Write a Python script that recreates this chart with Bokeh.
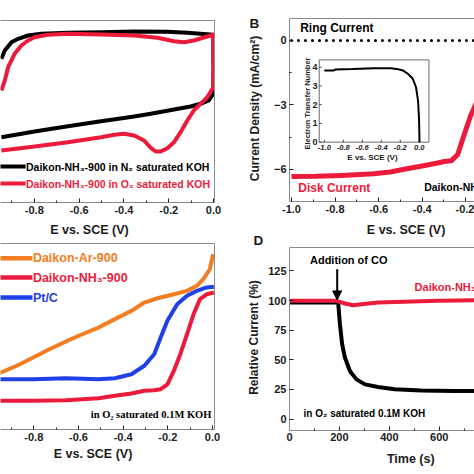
import numpy as np
from bokeh.plotting import figure
from bokeh.models import (LinearAxis, FixedTicker, NumeralTickFormatter, Range1d,
                          Arrow, NormalHead)
from bokeh.layouts import row, column
from bokeh.embed import file_html
from bokeh.resources import INLINE
from bokeh.core.properties import value

FONT = "Liberation Sans"
SERIF = "Liberation Serif"
RED = "#ec1b3b"
ORANGE = "#f27d22"
BLUE = "#2040e8"
FRAME = "#8a8a8a"
INK = "#1c1c1c"

# ---------------- Panel A : cyclic voltammograms ----------------
A_N2_E = [-0.947, -0.799, -0.650, -0.502, -0.354, -0.280, -0.176, -0.102, -0.058, -0.021, -0.001,
          0.000, -0.001, -0.058, -0.117, -0.206, -0.354, -0.502, -0.650, -0.769, -0.828, -0.872,
          -0.902, -0.932, -0.947]
A_N2_I = [-0.734, -0.620, -0.514, -0.414, -0.320, -0.266, -0.180, -0.120, -0.066, 0.000, 0.134,
          0.600, 1.314, 1.334, 1.354, 1.374, 1.380, 1.366, 1.354, 1.334, 1.300, 1.234,
          1.166, 1.000, 0.834]
A_O2_E = [-0.947, -0.799, -0.650, -0.502, -0.443, -0.399, -0.354, -0.310, -0.280, -0.258, -0.236,
          -0.206, -0.176, -0.147, -0.117, -0.088, -0.058, -0.028, -0.001, 0.000, -0.001, -0.028,
          -0.088, -0.132, -0.176, -0.250, -0.354, -0.502, -0.650, -0.739, -0.799, -0.828, -0.858,
          -0.888, -0.917, -0.932, -0.947]
A_O2_I = [-1.000, -0.920, -0.834, -0.734, -0.686, -0.666, -0.700, -0.800, -0.946, -1.020, -1.020,
          -0.954, -0.834, -0.634, -0.400, -0.200, -0.066, 0.066, 0.266, 0.800, 1.314, 1.280,
          1.200, 1.166, 1.186, 1.254, 1.300, 1.320, 1.334, 1.314, 1.266, 1.200, 1.100,
          0.934, 0.666, 0.400, 0.200]
A_LEGEND = ["Daikon-NH\u2083-900 in N\u2082 saturated KOH", "Daikon-NH\u2083-900 in O\u2082 saturated KOH"]
E_TICKS = [-1.0, -0.8, -0.6, -0.4, -0.2, 0.0]
E_MINOR = [-0.9, -0.7, -0.5, -0.3, -0.1]
E_LABEL = "E vs. SCE (V)"

# ---------------- Panel B : RRDE ----------------
B_RING_E = [-1.0, 0.0]
B_RING_I = [0.0, 0.0]
B_DISK_E = [-1.0, -0.889, -0.769, -0.622, -0.547, -0.471, -0.4, -0.324, -0.298, -0.267,
            -0.237, -0.208, -0.178, -0.16, -0.133]
B_DISK_I = [-6.33, -6.32, -6.28, -6.2, -6.12, -5.97, -5.84, -5.69, -5.63, -5.6,
            -5.3, -4.4, -3.5, -3.1, -2.4]
B_Y_TICKS = [0, -3, -6]
B_Y_MINOR = [-1.5, -4.5]
B_Y_LABEL = "Current Density (mA/cm\u00b2)"
INSET_E = [-1.0, -0.9, -0.885, -0.7, -0.476, -0.3, -0.238, -0.17, -0.12, -0.068, -0.034,
           -0.013, -0.003, 0.003]
INSET_N = [3.82, 3.82, 3.88, 3.9, 3.95, 3.94, 3.91, 3.82, 3.65, 3.38, 2.93, 2.22, 1.33, 0.0]
INSET_X_TICKS = [-1.0, -0.8, -0.6, -0.4, -0.2, 0.0]
INSET_X_LABELS = ["-1.0", "-0.8", "-0.6", "-0.4", "-0.2", "0.0"]
INSET_Y_TICKS = [0, 1, 2, 3, 4]
INSET_Y_LABELS = ["0", "1", "2", "3", "4"]
INSET_XLIM = (-1.054, 0.102)
INSET_YLIM = (0.0, 4.39)

# ---------------- Panel C : LSV ----------------
C_AR_E = [0.003, -0.012, -0.041, -0.07, -0.114, -0.173, -0.246, -0.305, -0.363, -0.437, -0.51,
          -0.583, -0.656, -0.73, -0.803, -0.876, -0.949, -1.0]
C_AR_I = [2.02, 1.18, 0.63, 0.26, -0.02, -0.21, -0.43, -0.67, -1.13, -1.59, -2.06,
          -2.43, -2.83, -3.26, -3.72, -4.18, -4.56, -4.8]
C_PT_E = [0.006, -0.026, -0.07, -0.114, -0.158, -0.202, -0.232, -0.261, -0.305, -0.363, -0.437,
          -0.51, -0.656, -0.803, -0.949, -1.0]
C_PT_I = [0.21, 0.17, -0.02, -0.29, -0.76, -1.68, -2.61, -3.54, -4.18, -4.65, -4.87,
          -4.93, -4.87, -4.93, -4.93, -4.93]
C_NH_E = [0.006, -0.026, -0.056, -0.085, -0.114, -0.144, -0.173, -0.202, -0.232, -0.261, -0.305,
          -0.363, -0.437, -0.51, -0.656, -0.803, -0.949, -1.0]
C_NH_I = [-0.11, -0.21, -0.48, -1.32, -2.43, -3.54, -4.46, -5.21, -5.48, -5.54, -5.57,
          -5.72, -5.85, -5.98, -6.09, -6.13, -6.13, -6.13]
C_LEGEND = ["Daikon-Ar-900", "Daikon-NH\u2083-900", "Pt/C"]
C_NOTE = "in O\u2082 saturated 0.1M KOH"

# ---------------- Panel D : CO tolerance ----------------
D_NH_T = [0, 100, 188, 222, 255, 288, 355, 461, 594, 741]
D_NH_R = [99.7, 99.7, 99.7, 97.5, 96.0, 96.9, 98.3, 98.9, 99.7, 100.3]
D_PT_T = [0, 100, 188, 195, 202, 211, 222, 242, 268, 302, 355, 421, 527, 660, 741]
D_PT_R = [98.3, 98.3, 98.3, 98.0, 80.0, 63.0, 51.9, 40.6, 33.5, 29.3, 27.1, 25.1, 24.2, 23.7, 23.7]
D_X_TICKS = [0, 200, 400, 600]
D_X_MINOR = [100, 300, 500, 700]
D_Y_TICKS = [0, 25, 50, 75, 100, 125]
D_Y_LABEL = "Relative Current (%)"
D_X_LABEL = "Time (s)"
D_NOTE = "in O\u2082 saturated 0.1M KOH"
CO_TIME = 191


def clean(p):
    p.outline_line_color = None
    p.background_fill_color = "white"
    p.border_fill_color = "white"
    for g in p.grid:
        g.visible = False
    return p


def make_fig(w, h, xr, yr, left, right, top, bottom):
    p = figure(width=w, height=h, x_range=Range1d(*xr), y_range=Range1d(*yr),
               output_backend="svg", toolbar_location=None,
               x_axis_location=None, y_axis_location=None,
               min_border_left=left, min_border_right=right,
               min_border_top=top, min_border_bottom=bottom)
    return clean(p)


def strip(w, h):
    p = figure(width=w, height=h, x_range=Range1d(0, w), y_range=Range1d(0, h),
               output_backend="svg", toolbar_location=None,
               x_axis_location=None, y_axis_location=None, min_border=0)
    return clean(p)


def tick_axis(ticks, minor, fmt=None, size="11px", standoff=3):
    ax = LinearAxis(ticker=FixedTicker(ticks=ticks, minor_ticks=minor))
    ax.axis_line_color = FRAME
    ax.major_tick_line_color = INK
    ax.minor_tick_line_color = INK
    ax.major_tick_in = 4
    ax.major_tick_out = 0
    ax.minor_tick_in = 2
    ax.minor_tick_out = 0
    ax.major_label_text_font = FONT
    ax.major_label_text_font_style = "bold"
    ax.major_label_text_font_size = size
    ax.major_label_text_color = INK
    ax.major_label_standoff = standoff
    if fmt is not None:
        ax.formatter = fmt
    return ax


def border_axis():
    ax = LinearAxis(ticker=FixedTicker(ticks=[], minor_ticks=[]))
    ax.axis_line_color = FRAME
    ax.major_tick_line_color = None
    ax.minor_tick_line_color = None
    ax.major_label_text_font_size = "0px"
    ax.major_label_standoff = 0
    return ax


def txt(p, x, y, t, size, color=INK, font=FONT, style="bold", align="left", **kw):
    p.text(x=[x], y=[y], text=[t], text_font=value(font), text_font_style=style,
           text_font_size=size, text_color=color, text_align=align, text_baseline="middle", **kw)


fmt1 = NumeralTickFormatter(format="0.0")

# ---------------- A ----------------
pa = make_fig(237, 220, (-0.951, 0.0045), (-2.04, 1.6), 0, 23, 20, 18)
pa.add_layout(tick_axis(E_TICKS, E_MINOR, fmt1, standoff=3), "below")
pa.add_layout(border_axis(), "above")
pa.add_layout(border_axis(), "right")
pa.line(A_N2_E, A_N2_I, line_color="black", line_width=4, line_join="round")
pa.line(A_O2_E, A_O2_I, line_color=RED, line_width=4, line_join="round")
pa.line([-0.96, -0.839], [-1.32, -1.32], line_color="black", line_width=4)
pa.line([-0.96, -0.839], [-1.66, -1.66], line_color=RED, line_width=4)
txt(pa, -0.837, -1.32, A_LEGEND[0], "10.5px", "black")
txt(pa, -0.837, -1.66, A_LEGEND[1], "10.5px", RED)

xa = strip(237, 17)
txt(xa, 98.5, 8, E_LABEL, "12.5px", align="center")

# ---------------- B ----------------
pb = make_fig(209, 220, (-1.009, -0.16), (-7.49, 1.02), 18, 0, 18, 19)
pb.add_layout(tick_axis(E_TICKS, E_MINOR, fmt1, standoff=3), "below")
pb.add_layout(tick_axis(B_Y_TICKS, B_Y_MINOR, standoff=3), "left")
pb.add_layout(border_axis(), "above")
pb.line(B_RING_E, B_RING_I, line_color="black", line_width=3, line_dash="0 7", line_cap="round")
pb.line(B_DISK_E, B_DISK_I, line_color=RED, line_width=5, line_join="round")
txt(pb, -0.96, 0.56, "Ring Current", "12px", "black")
txt(pb, -0.969, -6.84, "Disk Current", "12px", RED)
txt(pb, -0.391, -6.81, "Daikon-NH\u2083-900", "10.5px", "black")

# inset (mapped through extra ranges onto part of the frame)
pb.extra_x_ranges = {"ix": Range1d(-1.367, 0.582)}
pb.extra_y_ranges = {"iy": Range1d(-3.163, 6.597)}
IK = dict(x_range_name="ix", y_range_name="iy")
pb.quad(left=[INSET_XLIM[0]], right=[INSET_XLIM[1]], bottom=[INSET_YLIM[0]], top=[INSET_YLIM[1]],
        fill_color="white", line_color="#6a6a6a", line_width=1, **IK)
pb.segment(x0=INSET_X_TICKS, y0=[INSET_YLIM[0]] * 6, x1=INSET_X_TICKS, y1=[INSET_YLIM[0] + 0.13] * 6,
           line_color="#444", line_width=1, **IK)
pb.segment(x0=[INSET_XLIM[0]] * 5, y0=INSET_Y_TICKS, x1=[INSET_XLIM[0] + 0.026] * 5, y1=INSET_Y_TICKS,
           line_color="#444", line_width=1, **IK)
pb.text(x=INSET_X_TICKS, y=[-0.26] * 6, text=INSET_X_LABELS, text_font=value(FONT),
        text_font_style="bold italic", text_font_size="7.5px", text_color=INK,
        text_align="center", text_baseline="middle", **IK)
pb.text(x=[-1.071] * 5, y=INSET_Y_TICKS, text=INSET_Y_LABELS, text_font=value(FONT),
        text_font_style="bold", text_font_size="9px", text_color=INK,
        text_align="right", text_baseline="middle", **IK)
pb.line(INSET_E, INSET_N, line_color="black", line_width=2, **IK)
txt(pb, -0.493, -0.816, E_LABEL, "8px", align="center", **IK)
txt(pb, -1.176, 2.06, "Electron Transfer Number", "7.5px", align="center", angle=np.pi / 2, **IK)

xb = strip(209, 17)
txt(xb, 131.7, 8, E_LABEL, "12.5px", align="center")

# ---------------- middle strip: panel letters and y-axis titles ----------------
mid = strip(28, 474)
txt(mid, 12, 451, "B", "13.5px")
txt(mid, 17, 366, B_Y_LABEL, "12px", align="center", angle=np.pi / 2)
txt(mid, 16, 234.5, "D", "13.5px")
txt(mid, 16, 137, D_Y_LABEL, "12px", align="center", angle=np.pi / 2)

# ---------------- C ----------------
pc = make_fig(237, 209, (-0.949, 0.009), (-7.72, 2.61), 0, 19, 6, 17)
pc.add_layout(tick_axis(E_TICKS, E_MINOR, fmt1, standoff=3), "below")
pc.add_layout(border_axis(), "above")
pc.add_layout(border_axis(), "right")
pc.line(C_AR_E, C_AR_I, line_color=ORANGE, line_width=4)
pc.line(C_PT_E, C_PT_I, line_color=BLUE, line_width=4)
pc.line(C_NH_E, C_NH_I, line_color=RED, line_width=4)
for yy, col, lab in zip([1.79, 0.72, -0.39], [ORANGE, RED, BLUE], C_LEGEND):
    pc.line([-0.96, -0.806], [yy, yy], line_color=col, line_width=4.5)
    txt(pc, -0.804, yy, lab, "12.5px", col)
txt(pc, -0.545, -6.87, C_NOTE, "10.5px", "black", font=SERIF)

xc = strip(237, 28)
txt(xc, 102.5, 20.7, E_LABEL, "12.5px", align="center")

# ---------------- D ----------------
pd_ = make_fig(209, 209, (0, 741), (-9.6, 144.7), 23, 0, 10, 16)
pd_.add_layout(tick_axis(D_X_TICKS, D_X_MINOR, standoff=2), "below")
pd_.add_layout(tick_axis(D_Y_TICKS, [], standoff=3), "left")
pd_.add_layout(border_axis(), "above")
pd_.line(D_PT_T, D_PT_R, line_color="black", line_width=4, line_join="round")
pd_.line(D_NH_T, D_NH_R, line_color=RED, line_width=4, line_join="round")
txt(pd_, 82, 134.2, "Addition of CO", "11px", "black")
pd_.add_layout(Arrow(end=NormalHead(size=9, fill_color="black", line_color="black"),
                     x_start=CO_TIME, y_start=126.4, x_end=CO_TIME, y_end=100.5,
                     line_color="black", line_width=2))
txt(pd_, 501, 111.8, "Daikon-NH\u2083-900", "11px", RED)
txt(pd_, 56, 4.6, D_NOTE, "10px", "black", font=FONT)

xd = strip(209, 28)
txt(xd, 137, 15.7, D_X_LABEL, "12.5px", align="center")

layout = row(column(pa, xa, pc, xc), mid, column(pb, xb, pd_, xd))
open("out.html", "w").write(file_html(layout, INLINE))
